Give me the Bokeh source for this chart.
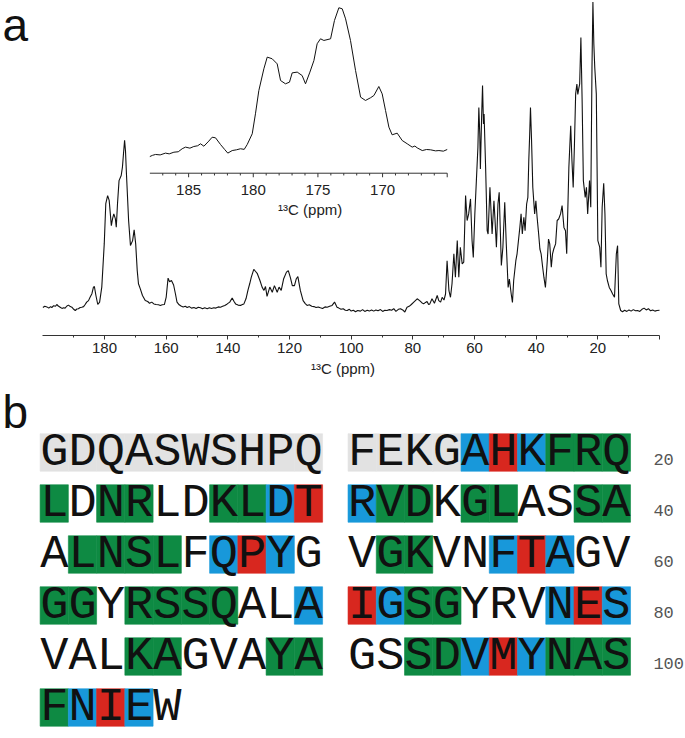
from bokeh.plotting import figure
from bokeh.models import Range1d, FixedTicker, ColumnDataSource
from bokeh.layouts import column
from bokeh.core.properties import value
from bokeh.embed import file_html
from bokeh.resources import INLINE

# ---------------- data: main 13C spectrum (ppm, intensity) ----------------
seg_carbonyl = [
    (200.0, 1.0), (199.4, 1.4), (198.7, 1.2), (198.1, 0.8), (197.5, 1.3), (197.1, 1.0),
    (196.5, 1.6), (195.9, 1.4), (195.5, 2.0), (195.0, 1.5), (194.4, 1.1), (193.8, 0.7),
    (193.3, 0.9), (192.8, 0.8), (192.2, 1.5), (191.7, 1.8), (191.1, 1.3), (190.6, 1.1),
    (190.0, 0.4), (189.5, 0.0), (189.0, 0.5), (188.5, 0.6), (187.9, 1.0), (187.4, 1.1),
    (186.8, 1.3), (186.3, 2.0), (185.8, 2.8), (185.2, 3.3), (184.7, 4.4), (184.1, 5.6),
    (183.6, 7.8), (183.3, 8.0), (182.8, 5.0), (182.2, 2.0), (181.6, 2.8), (180.9, 7.8),
    (180.1, 22.2), (179.6, 35.6), (179.0, 38.3), (178.5, 36.7), (177.8, 28.3), (177.4, 30.6),
    (177.0, 32.2), (176.5, 30.6), (176.2, 27.8), (175.8, 35.6), (175.3, 43.3), (174.6, 45.0),
    (174.2, 47.8), (173.8, 53.0), (173.5, 56.7), (173.2, 53.0), (172.9, 45.6), (172.2, 30.0),
    (171.6, 21.7), (170.9, 23.3), (170.4, 26.9), (169.9, 22.2), (169.4, 13.3), (169.0, 8.9),
    (168.4, 7.2), (167.7, 5.0), (166.8, 3.3), (166.0, 3.0), (165.4, 2.4), (164.7, 2.8),
    (164.0, 2.2), (163.3, 2.0), (162.5, 1.9), (161.9, 1.7),
]
seg_aromatic = [
    (161.3, 1.9), (160.6, 2.0), (160.0, 4.5), (159.4, 10.8), (158.9, 9.6), (158.3, 10.0),
    (157.6, 8.5), (157.0, 5.5), (156.5, 2.8), (155.8, 1.9), (155.2, 1.5), (154.5, 1.2),
    (153.8, 1.4), (153.2, 1.0), (152.5, 1.3), (151.8, 0.8), (151.0, 1.0), (150.3, 0.7),
    (149.6, 1.1), (148.9, 0.9), (148.2, 0.6), (147.5, 0.9), (146.7, 0.6), (146.0, 0.9),
    (145.3, 0.7), (144.6, 0.9), (143.9, 0.8), (143.1, 1.2), (142.4, 1.1), (141.7, 1.4),
    (141.0, 1.7), (140.2, 2.2), (139.4, 2.8), (138.6, 4.2), (138.0, 3.0), (137.5, 2.2),
    (136.7, 1.8), (135.9, 1.7), (135.3, 2.0), (134.8, 2.2), (134.1, 4.0), (133.5, 6.7),
    (132.9, 9.0), (132.4, 11.1), (131.6, 13.7), (131.0, 13.0), (130.5, 12.4), (129.6, 10.0),
    (128.9, 7.8), (128.3, 6.7), (127.8, 8.0), (127.3, 4.7), (126.4, 7.8), (125.6, 6.1),
    (124.9, 8.3), (124.0, 6.1), (123.4, 7.8), (122.7, 6.7), (121.9, 10.6), (121.0, 12.8),
    (120.4, 13.3), (119.7, 10.9), (119.1, 8.3), (118.4, 8.3), (117.8, 10.6), (117.3, 11.3),
    (116.5, 6.7), (115.6, 3.3), (114.9, 2.3), (114.3, 1.7), (113.6, 1.9), (112.8, 1.4),
    (112.1, 1.3), (111.4, 1.0), (110.7, 1.2), (110.0, 0.9), (109.3, 0.7), (108.5, 1.2),
    (107.8, 1.1), (107.0, 1.4), (106.2, 1.7), (105.4, 2.8), (104.6, 1.1), (104.0, 0.8),
    (103.3, 0.4), (102.6, 0.6), (101.9, 0.1), (101.3, 0.0), (100.6, 0.4), (100.0, -0.2),
    (99.3, 0.1), (98.6, -0.4), (97.9, 0.0), (97.0, -0.2), (96.3, 0.3), (95.6, -0.3),
    (94.8, 0.1), (94.1, -0.2), (93.4, 0.2), (92.7, -0.2), (92.0, 0.2), (91.3, -0.1),
    (90.5, 0.3), (89.8, -0.3), (89.1, 0.1), (88.4, 0.0), (87.6, 0.3), (86.9, 0.1),
    (86.2, 0.6), (85.5, -0.3), (84.7, 0.4), (84.0, 0.6), (83.3, 0.2), (82.6, -0.5),
    (81.9, 1.1), (81.2, 1.4), (80.5, 2.0), (79.7, 2.8), (79.1, 3.4), (78.6, 3.9),
    (77.8, 3.3), (77.1, 2.6), (76.5, 2.2), (75.9, 2.7), (75.4, 3.0), (74.9, 2.0),
    (74.5, 2.2), (73.8, 3.9), (73.0, 2.4), (72.1, 5.0), (71.6, 3.3), (71.0, 2.8),
]
seg_aliphatic = [
    (70.5, 4.4), (69.9, 3.5), (69.4, 5.5), (68.9, 16.6), (68.3, 6.6), (67.8, 4.4),
    (67.3, 8.9), (66.7, 18.9), (66.2, 11.1), (65.6, 23.3), (65.1, 11.1), (64.6, 21.1),
    (64.0, 15.5), (63.5, 16.1), (62.9, 38.3), (62.4, 30.0), (61.9, 32.2), (61.3, 37.2),
    (60.8, 23.3), (60.4, 17.7), (59.9, 32.2), (59.4, 43.3), (58.9, 54.4), (58.6, 67.7),
    (58.3, 58.9), (58.1, 47.2), (57.7, 64.4), (57.4, 75.0), (57.1, 62.2), (56.9, 65.5),
    (56.4, 47.7), (55.9, 26.6), (55.6, 25.5), (55.0, 41.1), (54.6, 32.2), (54.3, 25.5),
    (53.7, 36.6), (53.4, 31.1), (52.9, 21.1), (52.4, 35.5), (52.0, 39.4), (51.6, 25.5),
    (51.3, 15.0), (50.8, 21.1), (50.2, 36.1), (49.7, 22.2), (49.1, 7.7), (48.7, 10.5),
    (48.1, 5.5), (47.7, 2.7), (47.3, 10.0), (46.6, 16.6), (46.2, 18.9), (45.3, 27.7),
    (44.9, 32.2), (44.5, 25.5), (44.0, 31.1), (43.6, 26.6), (43.1, 35.5), (42.7, 37.7),
    (42.4, 50.0), (42.1, 58.9), (41.85, 67.7), (41.5, 56.6), (41.1, 41.1), (40.5, 32.2),
    (40.1, 36.6), (39.7, 31.1), (39.2, 25.5), (38.8, 20.5), (38.4, 18.9), (37.9, 14.4),
    (37.5, 11.1), (37.0, 7.7), (36.4, 16.6), (36.0, 23.8), (35.6, 22.2), (35.1, 14.4),
    (34.7, 18.9), (34.3, 20.5), (33.7, 22.2), (33.2, 30.0), (32.7, 30.5), (32.1, 32.2),
    (31.6, 35.0), (31.0, 27.7), (30.5, 26.6), (30.1, 18.9), (29.4, 47.7), (28.8, 61.6),
    (28.4, 50.0), (28.0, 41.0), (27.6, 55.0), (27.2, 72.2), (26.8, 75.5), (26.5, 72.0),
    (26.2, 73.9), (25.9, 75.5), (25.5, 91.0), (25.1, 70.0), (24.7, 43.3), (24.1, 37.7),
    (23.7, 41.1), (23.3, 32.2), (22.7, 43.3), (22.3, 34.4), (21.9, 81.0), (21.6, 102.8),
    (21.3, 88.8), (21.0, 81.0), (20.5, 72.2), (20.0, 23.3), (19.4, 21.1), (19.0, 14.4),
    (18.6, 34.4), (18.1, 42.4), (17.7, 32.2), (17.3, 12.2), (16.9, 10.0), (16.3, 7.7),
    (15.7, 6.6), (15.2, 5.5), (14.6, 4.4), (14.0, 18.9), (13.6, 21.6), (13.2, 2.2),
    (12.6, 0.0), (12.0, -0.4), (11.3, 0.1), (10.6, -0.3), (9.9, 0.2), (9.2, -0.2),
    (8.5, 0.3), (7.8, -0.1), (7.1, 0.0), (6.4, -0.3), (5.7, 0.4), (5.0, 0.8),
    (4.3, 0.2), (3.6, 0.6), (2.9, -0.1), (2.2, 0.2), (1.5, -0.2), (0.8, 0.0), (0.0, 0.1),
]

# inset: carbonyl region expanded (ppm, intensity)
inset_points = [
    (188.0, 0.4), (187.8, 1.2), (187.56, 1.8), (187.2, 1.5), (186.79, 2.7), (186.5, 2.2),
    (186.14, 3.3), (185.8, 3.6), (185.5, 5.6), (185.24, 6.7), (184.9, 6.0), (184.6, 7.1),
    (184.3, 7.6), (184.08, 8.9), (183.82, 7.3), (183.44, 10.7), (183.18, 13.3), (182.92, 12.9),
    (182.53, 8.4), (182.2, 5.0), (181.97, 2.7), (181.63, 4.4), (181.3, 4.9), (180.99, 5.6),
    (180.7, 5.2), (180.47, 8.4), (180.08, 15.6), (179.83, 28.9), (179.57, 44.4), (179.18, 58.9),
    (178.92, 66.7), (178.54, 65.6), (178.15, 62.2), (177.89, 51.1), (177.51, 48.9), (177.2, 50.0),
    (176.99, 56.2), (176.6, 56.7), (176.22, 54.4), (175.96, 48.9), (175.62, 56.7), (175.31, 64.4),
    (175.06, 75.6), (174.8, 78.9), (174.54, 77.8), (174.02, 78.9), (173.72, 91.1), (173.38, 99.6),
    (173.12, 98.9), (172.86, 92.2), (172.48, 77.8), (172.09, 57.8), (171.7, 40.0), (171.32, 37.8),
    (170.93, 39.6), (170.67, 41.1), (170.29, 47.1), (170.03, 42.2), (169.77, 31.1), (169.51, 20.0),
    (169.26, 14.9), (168.87, 16.0), (168.48, 11.1), (168.09, 8.9), (167.71, 6.7), (167.5, 7.4),
    (167.32, 6.2), (166.93, 4.4), (166.6, 5.1), (166.29, 4.9), (165.9, 4.2), (165.64, 4.4),
    (165.3, 4.0), (165.0, 5.1),
]

main_major_ticks = [0, 20, 40, 60, 80, 100, 120, 140, 160, 180]
main_minor_ticks = [10, 30, 50, 70, 90, 110, 130, 150, 170, 190]
inset_major_ticks = [185, 180, 175, 170, 165]
inset_tick_labels = ["185", "180", "175", "170", ""]
inset_minor_ticks = [187, 186, 184, 183, 182, 181, 179, 178, 177, 176,
                     174, 173, 172, 171, 169, 168, 167, 166]
axis_title = "\u00b9\u00b3C (ppm)"

# ---------------- data: sequence panel ----------------
seq_left = ["GDQASWSHPQ", "LDNRLDKLDT", "ALNSLFQPYG", "GGYRSSQALA", "VALKAGVAYA", "FNIEW"]
seq_right = ["FEKGAHKFRQ", "RVDKGLASSA", "VGKVNFTAGV", "IGSGYRVNES", "GSSDVMYNAS", ""]
code_left = ["xxxxxxxxxx", "G.GG..GGBR", ".GGGG.BRB.", "GG.GGGG..B", "...GG...GG", "GBRB."]
code_right = ["xxxxBRBGGG", "BGG.GG..GG", ".GG..BRB..", "RBGG...BRB", "..GGBRBGGG", ""]
row_numbers = ["20", "40", "60", "80", "100"]
palette = {"x": "#E2E2E2", "G": "#0E8A43", "B": "#1898DA", "R": "#D8271F"}

FONT = "Liberation Sans"
MONO = "Liberation Mono"
W = 685

# ================= panel a =================
main_pts = seg_carbonyl + seg_aromatic + seg_aliphatic
ppm_main = [p for p, _ in main_pts]
int_main = [v for _, v in main_pts]
ppm_in = [p for p, _ in inset_points]
int_in = [v for _, v in inset_points]

pa = figure(width=W, height=382,
            x_range=Range1d(213.75, -8.43), y_range=Range1d(-8.33, 103.33),
            output_backend="svg", toolbar_location=None, y_axis_location=None,
            min_border_left=0, min_border_right=0, min_border_top=0, min_border_bottom=47)
pa.extra_x_ranges = {"inset": Range1d(199.55, 146.57)}
pa.extra_y_ranges = {"inset": Range1d(-118.89, 104.44)}
pa.grid.visible = False
pa.outline_line_color = None
pa.background_fill_color = "white"
pa.border_fill_color = "white"

pa.line(ppm_main, int_main, line_color="#111111", line_width=1.1)

ax = pa.xaxis[0]
ax.bounds = (0, 200)
ax.ticker = FixedTicker(ticks=main_major_ticks, minor_ticks=main_minor_ticks)
ax.major_label_overrides = {0: ""}
ax.axis_line_color = "#333333"
ax.major_tick_line_color = "#333333"
ax.minor_tick_line_color = "#333333"
ax.major_tick_in = 0
ax.major_tick_out = 4
ax.minor_tick_in = 0
ax.minor_tick_out = 2
ax.major_label_standoff = 3
ax.major_label_text_font = FONT
ax.major_label_text_font_size = "15px"
ax.major_label_text_color = "#222222"
ax.axis_label = axis_title
ax.axis_label_text_font = FONT
ax.axis_label_text_font_size = "15px"
ax.axis_label_text_font_style = "normal"
ax.axis_label_text_color = "#222222"
ax.axis_label_standoff = 4

# inset spectrum with its own scales
inset_axis_y = -10.7
pa.line(ppm_in, int_in, x_range_name="inset", y_range_name="inset",
        line_color="#111111", line_width=1.0)
pa.segment(x0=[188], y0=[inset_axis_y], x1=[165], y1=[inset_axis_y],
           x_range_name="inset", y_range_name="inset", line_color="#333333", line_width=1)
pa.segment(x0=inset_major_ticks, y0=[inset_axis_y] * len(inset_major_ticks),
           x1=inset_major_ticks, y1=[inset_axis_y - 2.7] * len(inset_major_ticks),
           x_range_name="inset", y_range_name="inset", line_color="#333333", line_width=1)
pa.segment(x0=inset_minor_ticks, y0=[inset_axis_y] * len(inset_minor_ticks),
           x1=inset_minor_ticks, y1=[inset_axis_y - 1.5] * len(inset_minor_ticks),
           x_range_name="inset", y_range_name="inset", line_color="#333333", line_width=1)
pa.text(x=inset_major_ticks, y=[-22.2] * len(inset_major_ticks), text=inset_tick_labels,
        x_range_name="inset", y_range_name="inset",
        text_align="center", text_baseline="middle", text_font=value(FONT),
        text_font_size=value("15px"), text_color="#222222")
pa.text(x=[175.6], y=[-34.6], text=[axis_title],
        x_range_name="inset", y_range_name="inset",
        text_align="center", text_baseline="middle", text_font=value(FONT),
        text_font_size=value("15px"), text_color="#222222")

# panel letter "a"
pa.text(x=[213.1], y=[95.3], text=["a"], text_align="left", text_baseline="middle",
        text_font=value(FONT), text_font_size=value("46px"), text_color="#111111")

# ================= panel b =================
block_offset = 10.90
box_h = 0.735
cx, cy, ccol, lx, ly, lt = [], [], [], [], [], []
for r in range(len(seq_left)):
    for off, seq, code in ((0.0, seq_left[r], code_left[r]),
                           (block_offset, seq_right[r], code_right[r])):
        for i, ch in enumerate(seq):
            xc = off + i + 0.5
            lx.append(xc)
            ly.append(r)
            lt.append(ch)
            if code[i] != ".":
                cx.append(xc)
                cy.append(r)
                ccol.append(palette[code[i]])

pb = figure(width=W, height=356,
            x_range=Range1d(-1.402, 22.846), y_range=Range1d(5.6078, -1.3725),
            output_backend="svg", toolbar_location=None,
            x_axis_location=None, y_axis_location=None,
            min_border_left=0, min_border_right=0, min_border_top=0, min_border_bottom=0)
pb.grid.visible = False
pb.outline_line_color = None

cells = ColumnDataSource(dict(x=cx, y=cy, c=ccol))
pb.rect(x="x", y="y", width=1.0, height=box_h, source=cells,
        fill_color="c", line_color="c", line_width=0.6)
letters = ColumnDataSource(dict(x=lx, y=ly, t=lt))
pb.text(x="x", y="y", text="t", source=letters, text_align="center",
        text_baseline="middle", text_font=value(MONO), text_font_size=value("47px"),
        text_color="#111111")
pb.text(x=[21.71] * len(row_numbers), y=[r + 0.137 for r in range(len(row_numbers))],
        text=row_numbers, text_align="left", text_baseline="middle",
        text_font=value(MONO), text_font_size=value("17px"), text_color="#555555")

# panel letter "b"
pb.text(x=[-1.33], y=[-0.802], text=["b"], text_align="left", text_baseline="middle",
        text_font=value(FONT), text_font_size=value("46px"), text_color="#111111")

layout = column(pa, pb)
open("out.html", "w").write(file_html(layout, INLINE))
